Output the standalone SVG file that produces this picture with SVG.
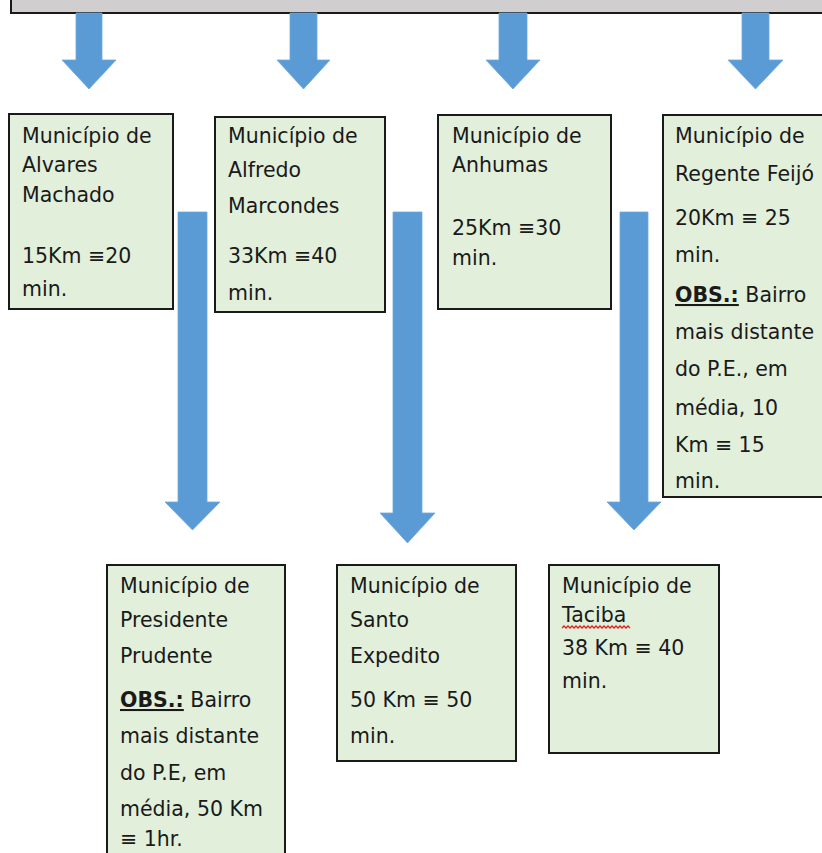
<svg xmlns="http://www.w3.org/2000/svg" width="822" height="853" viewBox="0 0 822 853">
<style>
.box{fill:#e2efda;stroke:#1a1a1a;stroke-width:2}
.bar{fill:#d0cece;stroke:#1a1a1a;stroke-width:2}
.arr{fill:#5b9bd5;stroke:#6fa8dc;stroke-width:0.8}
text{font-family:"DejaVu Sans","Verdana",sans-serif;font-size:20.5px;fill:#1a1a1a}
.b{font-weight:bold;text-decoration:underline}
.wave{fill:none;stroke:#e02020;stroke-width:1.3}
</style>
<rect width="822" height="853" fill="#ffffff"/>
<g id="top-bar"><rect class="bar" x="11" y="-10" width="830" height="23"/></g>
<g id="connectors">
<polygon class="arr" points="76,13 102,13 102,60 116,60 89,89 62,60 76,60"/>
<polygon class="arr" points="290,13 317,13 317,60 330,60 303.5,89 277,60 290,60"/>
<polygon class="arr" points="499,13 527,13 527,60 540,60 513,89 486,60 499,60"/>
<polygon class="arr" points="742,13 769,13 769,60 783,60 755.5,89 728,60 742,60"/>
<polygon class="arr" points="178,212 207,212 207,502 220,502 192.5,530 165,502 178,502"/>
<polygon class="arr" points="393,212 422,212 422,513 435,513 407.5,543 380,513 393,513"/>
<polygon class="arr" points="620,212 648,212 648,502 661,502 634,530 607,502 620,502"/>
</g>
<g id="alvares-machado">
<rect class="box" x="9" y="114" width="164" height="195"/>
<text x="22" y="143">Município de</text>
<text x="22" y="172">Alvares</text>
<text x="22" y="202">Machado</text>
<text x="22" y="263">15Km ≡20</text>
<text x="22" y="296">min.</text>
</g>
<g id="alfredo-marcondes">
<rect class="box" x="215" y="117" width="170" height="195"/>
<text x="228" y="143">Município de</text>
<text x="228" y="177">Alfredo</text>
<text x="228" y="213">Marcondes</text>
<text x="228" y="263">33Km ≡40</text>
<text x="228" y="300">min.</text>
</g>
<g id="anhumas">
<rect class="box" x="438" y="115" width="173" height="194"/>
<text x="452" y="143">Município de</text>
<text x="452" y="172">Anhumas</text>
<text x="452" y="235">25Km ≡30</text>
<text x="452" y="265">min.</text>
</g>
<g id="regente-feijo">
<rect class="box" x="663" y="115" width="175" height="382"/>
<text x="675" y="143">Município de</text>
<text x="675" y="181">Regente Feijó</text>
<text x="675" y="225">20Km ≡ 25</text>
<text x="675" y="262">min.</text>
<text x="675" y="302"><tspan class="b">OBS.:</tspan> Bairro</text>
<text x="675" y="339">mais distante</text>
<text x="675" y="376">do P.E., em</text>
<text x="675" y="415">média, 10</text>
<text x="675" y="452">Km ≡ 15</text>
<text x="675" y="488">min.</text>
</g>
<g id="presidente-prudente">
<rect class="box" x="107" y="565" width="178" height="300"/>
<text x="120" y="593">Município de</text>
<text x="120" y="627">Presidente</text>
<text x="120" y="663">Prudente</text>
<text x="120" y="707"><tspan class="b">OBS.:</tspan> Bairro</text>
<text x="120" y="743">mais distante</text>
<text x="120" y="780">do P.E, em</text>
<text x="120" y="816">média, 50 Km</text>
<text x="120" y="846">≡ 1hr.</text>
</g>
<g id="santo-expedito">
<rect class="box" x="337" y="565" width="179" height="196"/>
<text x="350" y="593">Município de</text>
<text x="350" y="627">Santo</text>
<text x="350" y="663">Expedito</text>
<text x="350" y="707">50 Km ≡ 50</text>
<text x="350" y="743">min.</text>
</g>
<g id="taciba">
<rect class="box" x="549" y="565" width="170" height="188"/>
<text x="562" y="593">Município de</text>
<text x="562" y="622">Taciba</text>
<path class="wave" d="M562,628 l2,-2 l2,2 l2,-2 l2,2 l2,-2 l2,2 l2,-2 l2,2 l2,-2 l2,2 l2,-2 l2,2 l2,-2 l2,2 l2,-2 l2,2 l2,-2 l2,2 l2,-2 l2,2 l2,-2 l2,2 l2,-2 l2,2 l2,-2 l2,2 l2,-2 l2,2 l2,-2 l2,2 l2,-2 l2,2 l2,-2 l2,2"/>
<text x="562" y="655">38 Km ≡ 40</text>
<text x="562" y="688">min.</text>
</g>
</svg>
